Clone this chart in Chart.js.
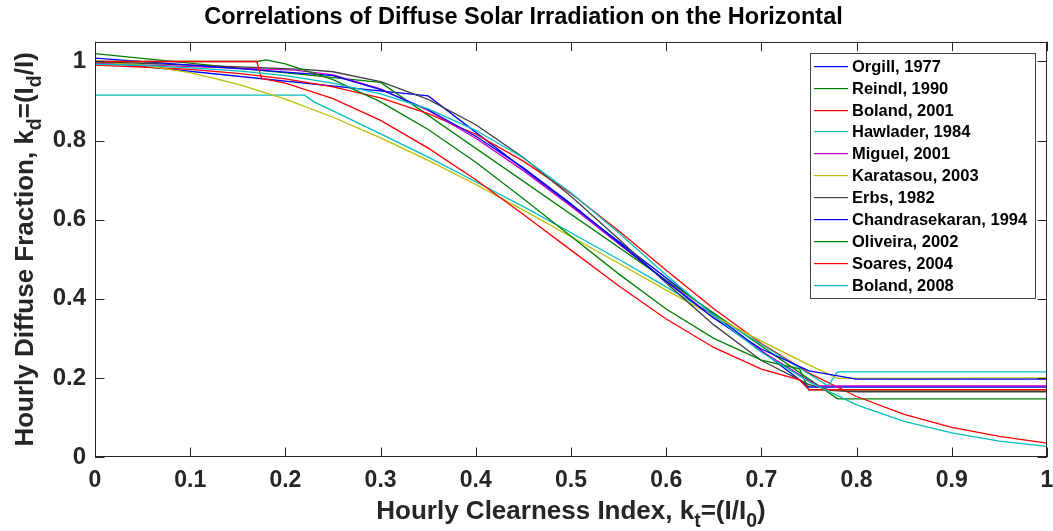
<!DOCTYPE html>
<html>
<head>
<meta charset="utf-8">
<title>Correlations of Diffuse Solar Irradiation on the Horizontal</title>
<script src="https://cdn.jsdelivr.net/npm/chart.js@4.4.1/dist/chart.umd.min.js"></script>
<style>
  html, body { margin: 0; padding: 0; background: #fff; }
  canvas { display: block; }
</style>
</head>
<body>
<canvas id="myChart" width="1053" height="531"></canvas>
<script>
// kd against kt for each correlation
var orgill = [[0, 1.0], [0.35, 0.913], [0.75, 0.177], [1, 0.177]];
var reindl = [[0, 1.02], [0.3, 0.947], [0.78, 0.147], [1, 0.147]];
var boland2001 = [[0, 0.991], [0.05, 0.986], [0.1, 0.980], [0.15, 0.970], [0.2, 0.956], [0.25, 0.936],
  [0.3, 0.908], [0.35, 0.868], [0.4, 0.816], [0.45, 0.748], [0.5, 0.666], [0.55, 0.572], [0.6, 0.472],
  [0.65, 0.375], [0.7, 0.287], [0.75, 0.212], [0.8, 0.153], [0.85, 0.108], [0.9, 0.075], [0.95, 0.052], [1, 0.035]];
var hawlader = [[0, 0.915], [0.22, 0.915], [0.23, 0.898], [0.25, 0.875], [0.3, 0.817], [0.35, 0.758],
  [0.4, 0.696], [0.45, 0.633], [0.5, 0.567], [0.55, 0.500], [0.6, 0.430], [0.65, 0.359], [0.7, 0.285],
  [0.75, 0.210], [0.77, 0.180], [0.78, 0.215], [1, 0.215]];
var miguel = [[0, 0.995], [0.21, 0.978], [0.25, 0.966], [0.3, 0.931], [0.35, 0.876], [0.4, 0.806],
  [0.45, 0.724], [0.5, 0.634], [0.55, 0.539], [0.6, 0.445], [0.65, 0.353], [0.7, 0.268], [0.75, 0.193],
  [0.76, 0.180], [1, 0.180]];
var karatasou = [[0, 0.9995], [0.05, 0.991], [0.1, 0.972], [0.15, 0.943], [0.2, 0.905], [0.25, 0.859],
  [0.3, 0.807], [0.35, 0.750], [0.4, 0.689], [0.45, 0.624], [0.5, 0.557], [0.55, 0.490], [0.6, 0.422],
  [0.65, 0.356], [0.7, 0.293], [0.75, 0.233], [0.78, 0.199], [1, 0.200]];
var erbs = [[0, 1.0], [0.22, 0.980], [0.25, 0.974], [0.3, 0.949], [0.35, 0.904], [0.4, 0.840],
  [0.45, 0.757], [0.5, 0.659], [0.55, 0.551], [0.6, 0.440], [0.65, 0.334], [0.7, 0.244], [0.75, 0.183],
  [0.775, 0.168], [0.8, 0.165], [1, 0.165]];
var chandra = [[0, 1.0086], [0.24, 0.966], [0.25, 0.964], [0.3, 0.929], [0.35, 0.878], [0.4, 0.811],
  [0.45, 0.731], [0.5, 0.640], [0.55, 0.542], [0.6, 0.444], [0.65, 0.351], [0.7, 0.273], [0.75, 0.218],
  [0.8, 0.197], [1, 0.197]];
var oliveira = [[0, 1.0], [0.17, 1.0], [0.18, 1.004], [0.2, 0.994], [0.25, 0.954], [0.3, 0.898],
  [0.35, 0.828], [0.4, 0.745], [0.45, 0.653], [0.5, 0.558], [0.55, 0.463], [0.6, 0.374], [0.65, 0.300],
  [0.7, 0.245], [0.74, 0.223], [0.75, 0.170], [1, 0.170]];
var soares = [[0, 1.0], [0.17, 1.0], [0.175, 0.957], [0.2, 0.945], [0.25, 0.906], [0.3, 0.851],
  [0.35, 0.781], [0.4, 0.701], [0.45, 0.613], [0.5, 0.523], [0.55, 0.433], [0.6, 0.349], [0.65, 0.277],
  [0.7, 0.222], [0.74, 0.195], [0.75, 0.170], [1, 0.170]];
var boland2008 = [[0, 0.993], [0.05, 0.990], [0.1, 0.984], [0.15, 0.976], [0.2, 0.964], [0.25, 0.945],
  [0.3, 0.918], [0.35, 0.880], [0.4, 0.826], [0.45, 0.756], [0.5, 0.668], [0.55, 0.567], [0.6, 0.460],
  [0.65, 0.357], [0.7, 0.265], [0.75, 0.190], [0.8, 0.132], [0.85, 0.090], [0.9, 0.061], [0.95, 0.040], [1, 0.027]];

var names = ['Orgill, 1977', 'Reindl, 1990', 'Boland, 2001', 'Hawlader, 1984', 'Miguel, 2001',
  'Karatasou, 2003', 'Erbs, 1982', 'Chandrasekaran, 1994', 'Oliveira, 2002', 'Soares, 2004', 'Boland, 2008'];
var series = [orgill, reindl, boland2001, hawlader, miguel, karatasou, erbs, chandra, oliveira, soares, boland2008];
var colors = ['#0000ff', '#008000', '#ff0000', '#00bfbf', '#bf00bf', '#bfbf00', '#404040',
  '#0000ff', '#008000', '#ff0000', '#00bfbf'];

var FONT = '"Liberation Sans", Arial, Helvetica, sans-serif';
var INK = '#262626';

// text with subscripts, centred on x
function richText(ctx, parts, size, x, y) {
  var w = 0;
  parts.forEach(function(p) {
    ctx.font = 'bold ' + (p[1] ? size * 0.75 : size) + 'px ' + FONT;
    w += ctx.measureText(p[0]).width;
  });
  var cx = x - w / 2;
  parts.forEach(function(p) {
    ctx.font = 'bold ' + (p[1] ? size * 0.75 : size) + 'px ' + FONT;
    ctx.fillText(p[0], cx, p[1] ? y + size * 0.3 : y);
    cx += ctx.measureText(p[0]).width;
  });
}

function plainNumber(v) {
  return String(Number(v.toFixed(2)));
}

var decorations = {
  id: 'decorations',
  afterDraw: function(chart) {
    var ctx = chart.ctx, a = chart.chartArea;
    var xs = chart.scales.x, ys = chart.scales.y;
    var tl = 9.5;
    ctx.save();
    ctx.strokeStyle = INK;
    ctx.lineWidth = 1;
    ctx.beginPath();
    xs.ticks.forEach(function(t) {
      var px = Math.round(xs.getPixelForValue(t.value)) + 0.5;
      ctx.moveTo(px, a.bottom); ctx.lineTo(px, a.bottom - tl);
      ctx.moveTo(px, a.top); ctx.lineTo(px, a.top + tl);
    });
    ys.ticks.forEach(function(t) {
      var py = Math.round(ys.getPixelForValue(t.value)) + 0.5;
      ctx.moveTo(a.left, py); ctx.lineTo(a.left + tl, py);
      ctx.moveTo(a.right, py); ctx.lineTo(a.right - tl, py);
    });
    ctx.stroke();
    ctx.strokeRect(Math.round(a.left) + 0.5, Math.round(a.top) + 0.5,
      Math.round(a.width) - 1, Math.round(a.height) - 1);

    // axis titles
    ctx.fillStyle = INK;
    ctx.textAlign = 'left';
    ctx.textBaseline = 'alphabetic';
    richText(ctx, [['Hourly Clearness Index, k'], ['t', 1], ['=(I/I'], ['0', 1], [')']], 26,
      (a.left + a.right) / 2, 519);
    ctx.save();
    ctx.translate(33, (a.top + a.bottom) / 2);
    ctx.rotate(-Math.PI / 2);
    richText(ctx, [['Hourly Diffuse Fraction, k'], ['d', 1], ['=(I'], ['d', 1], ['/I)']], 26, 0, 0);
    ctx.restore();

    // legend box
    var lx = 810, ly = 53, lw = 225, lh = 245, row = 21.9;
    ctx.fillStyle = '#fff';
    ctx.fillRect(lx, ly, lw, lh);
    ctx.strokeStyle = '#404040';
    ctx.lineWidth = 1;
    ctx.strokeRect(lx + 0.5, ly + 0.5, lw, lh);
    ctx.font = 'bold 16.5px ' + FONT;
    ctx.textBaseline = 'middle';
    names.forEach(function(name, i) {
      var cy = Math.round(ly + 12.7 + i * row);
      ctx.fillStyle = colors[i];
      ctx.fillRect(lx + 4, cy, 34, 1.2);
      ctx.fillStyle = '#000';
      ctx.fillText(name, lx + 42, cy + 1);
    });
    ctx.restore();
  }
};

var ctx = document.getElementById('myChart').getContext('2d');

var chart = new Chart(ctx, {
  type: 'line',
  data: {
    datasets: series.map(function(s, i) {
      return {
        label: names[i],
        data: s.map(function(p) { return { x: p[0], y: p[1] }; }),
        borderColor: colors[i],
        backgroundColor: colors[i],
        borderWidth: 1.3,
        pointRadius: 0,
        tension: 0,
        fill: false,
        order: series.length - i
      };
    })
  },
  options: {
    responsive: false,
    devicePixelRatio: 1,
    animation: false,
    layout: { padding: { left: 0, right: 6, top: 0, bottom: 0 } },
    plugins: {
      legend: { display: false },
      tooltip: { enabled: false },
      title: {
        display: true,
        text: 'Correlations of Diffuse Solar Irradiation on the Horizontal',
        color: '#000',
        font: { family: FONT, size: 23.5, weight: 'bold' },
        padding: { top: 3, bottom: 10.5 }
      }
    },
    scales: {
      x: {
        type: 'linear',
        min: 0,
        max: 1,
        grid: { display: false, drawTicks: false },
        border: { display: false },
        ticks: { stepSize: 0.1, color: INK, padding: 10, maxRotation: 0,
          callback: plainNumber,
          font: { family: FONT, size: 23, weight: 'bold' } },
        afterFit: function(s) { s.height = 74; s.paddingLeft = 0; s.paddingRight = 0; }
      },
      y: {
        min: 0,
        max: 1.05,
        grid: { display: false, drawTicks: false },
        border: { display: false },
        ticks: { stepSize: 0.2, includeBounds: false, color: INK, padding: 9,
          callback: plainNumber,
          font: { family: FONT, size: 24, weight: 'bold' } },
        afterFit: function(s) { s.width = 95; s.paddingTop = 0; s.paddingBottom = 0; }
      }
    }
  },
  plugins: [decorations]
});
</script>
</body>
</html>
